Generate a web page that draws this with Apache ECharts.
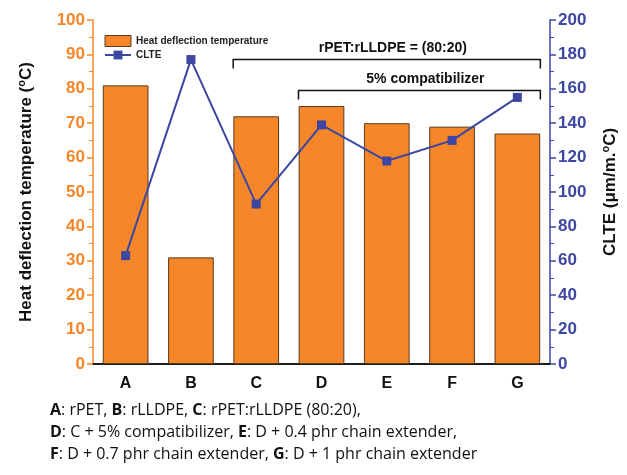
<!DOCTYPE html>
<html><head><meta charset="utf-8">
<script src="https://cdn.jsdelivr.net/npm/echarts@6/dist/echarts.min.js"></script>
<style>html,body{margin:0;padding:0;background:#fff}#c{width:627px;height:475px}</style>
</head><body><div id="c"></div>
<script>
const categories = ['A','B','C','D','E','F','G'];
const hdtValues = [81, 31, 72, 75, 70, 69, 67];
const clteValues = [63, 177, 93, 139, 118, 130, 155];
const leftTicks = {min: 0, max: 100, interval: 10};
const rightTicks = {min: 0, max: 200, interval: 20};
const bracketLabels = ['rPET:rLLDPE = (80:20)', '5% compatibilizer'];

const ORANGE = '#F5862A', BLUE = '#3D47A1';
const chart = echarts.init(document.getElementById('c'));
const FONT = 'Liberation Sans, Arial, sans-serif';
chart.setOption({
  animation: false,
  grid: {left: 93, right: 75, top: 20, bottom: 111},
  legend: {
    left: 99, top: 30, orient: 'vertical', itemGap: 3, itemWidth: 26, itemHeight: 11,
    textStyle: {fontFamily: FONT, fontWeight: 'bold', fontSize: 10, color: '#222'},
    data: [{name: 'Heat deflection temperature', icon: 'rect', itemStyle: {borderColor: '#5a3b1e', borderWidth: 1}},
           {name: 'CLTE'}]
  },
  xAxis: [{
    type: 'category', data: categories, position: 'bottom',
    axisLine: {lineStyle: {color: '#111', width: 1.5}},
    axisTick: {alignWithLabel: true, length: 6, lineStyle: {color: '#111', width: 1.5}},
    axisLabel: {fontFamily: FONT, fontWeight: 'bold', fontSize: 16, color: '#111', margin: 12}
  }, {
    type: 'category', data: categories, position: 'top',
    axisLine: {lineStyle: {color: '#111', width: 1.5}},
    axisTick: {alignWithLabel: true, inside: true, length: 6, lineStyle: {color: '#111', width: 1.5}},
    axisLabel: {show: false}
  }],
  yAxis: [{
    type: 'value', min: leftTicks.min, max: leftTicks.max, interval: leftTicks.interval,
    position: 'left',
    name: 'Heat deflection temperature ({s|o}C)', nameLocation: 'middle', nameGap: 56,
    nameTextStyle: {fontFamily: FONT, fontWeight: 'bold', fontSize: 17, color: '#111',
      rich: {s: {fontSize: 11, fontWeight: 'bold', verticalAlign: 'top', padding: [0,0,10,0], color:'#111'}}},
    axisLine: {show: true, lineStyle: {color: ORANGE, width: 1.5}},
    axisTick: {show: true, length: 6, lineStyle: {color: ORANGE, width: 1.5}},
    minorTick: {show: true, splitNumber: 2, length: 4, lineStyle: {color: ORANGE}},
    splitLine: {show: false},
    axisLabel: {fontFamily: FONT, fontWeight: 'bold', fontSize: 17, color: ORANGE, margin: 8}
  }, {
    type: 'value', min: rightTicks.min, max: rightTicks.max, interval: rightTicks.interval,
    position: 'right',
    name: 'CLTE (μm/m.{s|o}C)', nameLocation: 'middle', nameGap: 50, nameRotate: 90,
    nameTextStyle: {fontFamily: FONT, fontWeight: 'bold', fontSize: 17, color: '#111',
      rich: {s: {fontSize: 11, fontWeight: 'bold', verticalAlign: 'top', padding: [0,0,10,0], color:'#111'}}},
    axisLine: {show: true, lineStyle: {color: BLUE, width: 1.5}},
    axisTick: {show: true, length: 6, lineStyle: {color: BLUE, width: 1.5}},
    minorTick: {show: true, splitNumber: 2, length: 4, lineStyle: {color: BLUE}},
    splitLine: {show: false},
    axisLabel: {fontFamily: FONT, fontWeight: 'bold', fontSize: 17, color: BLUE, margin: 8}
  }],
  series: [{
    name: 'Heat deflection temperature', type: 'bar', data: hdtValues, barWidth: '70%',
    xAxisIndex: 0, yAxisIndex: 0,
    itemStyle: {color: ORANGE, borderColor: '#5a3b1e', borderWidth: 1}
  }, {
    name: 'CLTE', type: 'line', data: clteValues, xAxisIndex: 0, yAxisIndex: 1,
    symbol: 'rect', symbolSize: 9,
    lineStyle: {color: BLUE, width: 2}, itemStyle: {color: BLUE}
  }]
});

function px(cat, val) { return chart.convertToPixel({xAxisIndex: 0, yAxisIndex: 0}, [cat, val]); }
const half = 23;
function bracket(c1, c2, yVal, label) {
  const a = px(c1, yVal), b = px(c2, yVal);
  const x1 = a[0] - half, x2 = b[0] + half, y = a[1];
  return [{
    type: 'polyline', shape: {points: [[x1, y + 9], [x1, y], [x2, y], [x2, y + 9]]},
    style: {stroke: '#111', lineWidth: 1.5, fill: null}
  }, {
    type: 'text', x: (x1 + x2) / 2 + 6, y: y - 4,
    style: {text: label, fontFamily: FONT, fontWeight: 'bold', fontSize: 14, fill: '#111',
      align: 'center', verticalAlign: 'bottom'}
  }];
}
const notes = [
  '{b|A}: rPET, {b|B}: rLLDPE, {b|C}: rPET:rLLDPE (80:20),',
  '{b|D}: C + 5% compatibilizer, {b|E}: D + 0.4 phr chain extender,',
  '{b|F}: D + 0.7 phr chain extender, {b|G}: D + 1 phr chain extender'
];
const NFONT = 'Open Sans, sans-serif';
const noteEls = notes.map((t, i) => ({
  type: 'text', left: 50, top: 402 + i * 22,
  style: {text: t, fontFamily: NFONT, fontSize: 16, fill: '#111',
    rich: {b: {fontFamily: NFONT, fontSize: 16, fontWeight: 'bold', fill: '#111'}}}
}));
chart.setOption({graphic: [
  ...bracket('C', 'G', 88.5, bracketLabels[0]),
  ...bracket('D', 'G', 79.5, bracketLabels[1]),
  ...noteEls
]});
</script></body></html>
